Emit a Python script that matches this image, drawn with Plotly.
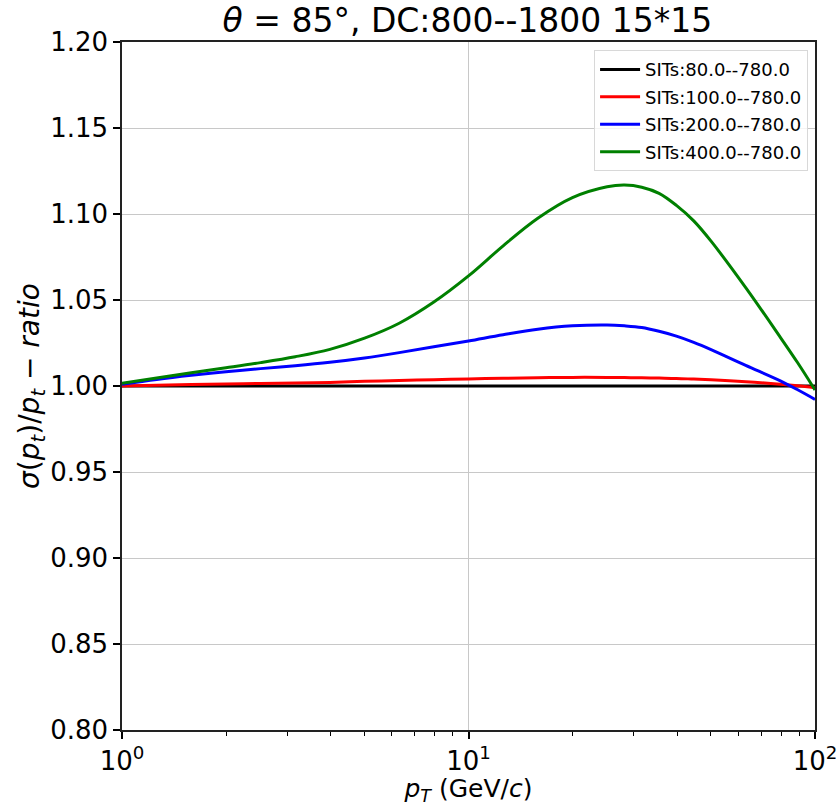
import plotly.graph_objects as go

pt = [1, 1.259, 1.585, 1.995, 2.512, 3.162, 3.981, 5.012, 6.310, 7.943, 10,
      12.59, 15.85, 19.95, 25.12, 28.18, 31.62, 35.48, 39.81, 44.67, 50.12, 63.10, 79.43, 89.13, 100]

ratio_80 = [1.0] * len(pt)
ratio_100 = [1.0000, 1.0004, 1.0008, 1.0011, 1.0015, 1.0018, 1.0021, 1.0027, 1.0032, 1.0037, 1.0041,
             1.0045, 1.0048, 1.0050, 1.0050, 1.0049, 1.0048, 1.0046, 1.0044, 1.0040, 1.0036, 1.0025,
             1.0010, 1.0001, 0.9990]
ratio_200 = [1.0010, 1.0038, 1.0062, 1.0083, 1.0101, 1.0118, 1.0138, 1.0163, 1.0194, 1.0228, 1.0262,
             1.0298, 1.0330, 1.0350, 1.0355, 1.0350, 1.0340, 1.0318, 1.0290, 1.0254, 1.0212, 1.0120,
             1.0030, 0.9978, 0.9922]
ratio_400 = [1.0016, 1.0047, 1.0077, 1.0106, 1.0136, 1.0170, 1.0213, 1.0278, 1.0365, 1.0488, 1.0640,
             1.0815, 1.0975, 1.1095, 1.1158, 1.1168, 1.1156, 1.1120, 1.1050, 1.0960, 1.0842, 1.0572,
             1.0283, 1.0135, 0.9977]

names = ["SITs:80.0--780.0", "SITs:100.0--780.0", "SITs:200.0--780.0", "SITs:400.0--780.0"]
colors = ["black", "#ff0000", "#0000ff", "#008000"]
series = [ratio_80, ratio_100, ratio_200, ratio_400]

x_tickvals = [1, 10, 100]
x_ticktext = ["10<sup>0</sup>", "10<sup>1</sup>", "10<sup>2</sup>"]
x_minor = [2, 3, 4, 5, 6, 7, 8, 9, 20, 30, 40, 50, 60, 70, 80, 90]
y_tickvals = [0.80, 0.85, 0.90, 0.95, 1.00, 1.05, 1.10, 1.15, 1.20]

fig = go.Figure()
for name, col, ys in zip(names, colors, series):
    fig.add_trace(go.Scatter(x=pt, y=ys, mode="lines", name=name, legendgroup=name,
                             line=dict(color=col, width=3, shape="spline", smoothing=1)))

font = "DejaVu Sans, sans-serif"
fig.update_layout(
    width=838, height=806,
    margin=dict(l=122, r=23, t=42, b=76),
    paper_bgcolor="white", plot_bgcolor="white",
    font=dict(family=font, color="black", size=26),
    title=dict(text="<i>θ</i> = 85°, DC:800--1800 15*15", x=0.5578, xanchor="center",
               y=1 - 20 / 806, yanchor="middle", font=dict(size=33)),
    showlegend=True,
    legend=dict(x=0.99, y=0.988, xanchor="right", yanchor="top",
                bgcolor="rgba(255,255,255,0.8)", bordercolor="#d8d8d8", borderwidth=1,
                font=dict(size=18), tracegroupgap=1, itemwidth=40),
)
fig.update_xaxes(
    type="log", range=[0, 2], automargin=False,
    tickmode="array", tickvals=x_tickvals, ticktext=x_ticktext,
    ticks="outside", ticklen=7, tickwidth=1.5, tickcolor="black",
    showline=True, linecolor="#222", linewidth=1.5, mirror=True,
    showgrid=True, gridcolor="#c8c8c8", gridwidth=1,
    minor=dict(tickmode="array", tickvals=x_minor, ticks="outside", ticklen=4,
               tickwidth=1.2, tickcolor="black", showgrid=False),
    title=dict(text="<i>p</i><sub><i>T</i></sub> (GeV/<i>c</i>)", font=dict(size=25), standoff=0),
    tickfont=dict(size=26), zeroline=False,
)
fig.update_yaxes(
    range=[0.80, 1.20], automargin=False, tickmode="array", tickvals=y_tickvals,
    ticktext=[f"{v:.2f}" for v in y_tickvals],
    ticks="outside", ticklen=7, tickwidth=1.5, tickcolor="black",
    showline=True, linecolor="#222", linewidth=1.5, mirror=True,
    showgrid=True, gridcolor="#c8c8c8", gridwidth=1,
    title=dict(text="<i>σ</i>(<i>p</i><sub><i>t</i></sub>)/<i>p</i><sub><i>t</i></sub>&nbsp;−&nbsp;<i>ratio</i>",
               font=dict(size=28), standoff=0),
    tickfont=dict(size=26), zeroline=False,
)
fig.write_html("out.html")
